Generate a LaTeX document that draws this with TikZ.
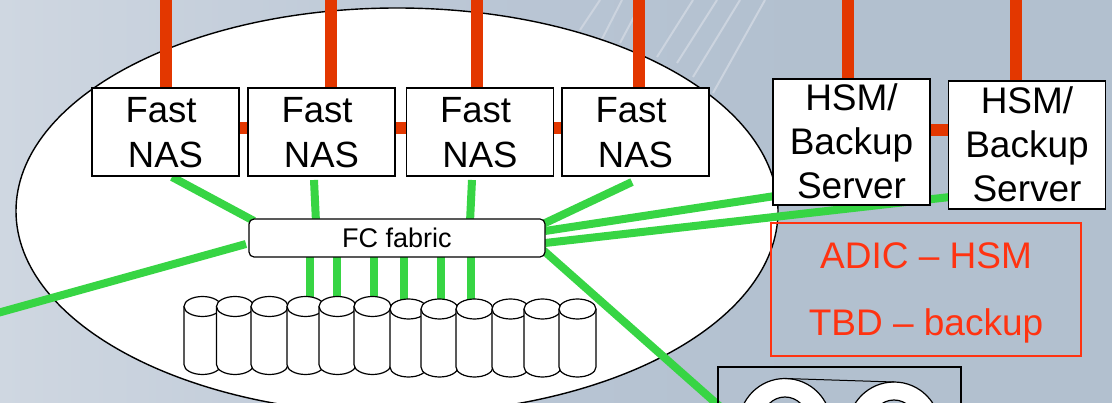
\documentclass[tikz,border=0pt]{standalone}
\usepackage{fontspec}
\setmainfont{Liberation Sans}
\usetikzlibrary{shapes.geometric}
\pgfdeclarelayer{back}
\pgfdeclarelayer{links}
\pgfsetlayers{back,links,main}
\definecolor{bgL}{HTML}{CFD7E1}
\definecolor{bgM}{HTML}{BAC6D5}
\definecolor{bgR}{HTML}{B2C0CF}
\definecolor{stripe}{HTML}{CCD4DF}
\definecolor{redlink}{HTML}{E33700}
\definecolor{greenlink}{HTML}{37D544}
\definecolor{notered}{HTML}{FF3311}
\tikzset{
  x=1pt,y=-1pt,
  every node/.style={inner sep=0pt,outer sep=0pt},
  nasbox/.style={draw=black,line width=1.4pt,fill=white,font=\fontsize{36.5}{45}\selectfont,align=center,minimum width=147,minimum height=88,text depth=0pt},
  hsmbox/.style={draw=black,line width=1.4pt,fill=white,font=\fontsize{37}{44}\selectfont,align=center,minimum width=157,minimum height=126,text depth=2pt},
  disk/.pic={
    \draw[line width=1.2pt,fill=white,line join=round] (-18.5,-29) -- (-18.5,29) arc (180:0:18.5 and 10) -- (18.5,-29);
    \draw[line width=1.2pt,fill=white] (0,-29) ellipse [x radius=18.5,y radius=10];
  },
  reel/.style={circle,draw=black,line width=1.2pt,fill=white,minimum size=92},
  hub/.style={circle,draw=black,line width=1.2pt,fill=bgR,minimum size=44},
  rlink/.style={draw=redlink,line width=12pt},
  glink/.style={draw=greenlink,line width=8pt},
  streak/.style={draw=stripe,line width=2pt},
}
\begin{document}
\begin{tikzpicture}
\useasboundingbox (0,0) rectangle (1112,403);
\begin{pgfonlayer}{back}
\fill[bgR] (0,0) rectangle (1112,403);
\shade[left color=bgL,right color=bgM] (0,0) rectangle (480,403);
\shade[left color=bgM,right color=bgR] (480,0) rectangle (800,403);
\draw[streak] (580,30) -- (600,0);
\draw[streak] (600,43) -- (622,0);
\draw[streak] (620,43) -- (643,0);
\draw[streak] (657,57) -- (693,0);
\draw[streak] (677,63) -- (717,0);
\draw[streak] (693,77) -- (740,0);
\draw[streak] (713,93) -- (765,0);
\node[ellipse,draw=black,line width=1.4pt,fill=white,minimum width=762,minimum height=406] (cloud) at (397,211) {};
\end{pgfonlayer}
% nodes
\node[nasbox] (n1) at (165.5,132) {Fast\hspace*{9pt}\\NAS};
\node[nasbox] (n2) at (321.5,132) {Fast\hspace*{9pt}\\NAS};
\node[nasbox] (n3) at (480,132) {Fast\hspace*{9pt}\\NAS};
\node[nasbox] (n4) at (635.5,132) {Fast\hspace*{9pt}\\NAS};
\node[hsmbox] (h1) at (851.5,142) {HSM/\\Backup\\Server};
\node[hsmbox,minimum height=128] (h2) at (1027,145) {HSM/\\Backup\\Server};
\node[draw=black,line width=1.2pt,fill=white,rounded corners=5pt,minimum width=296,minimum height=38,font=\fontsize{27}{30}\selectfont] (fabric) at (397,238) {FC fabric};
\node[draw=notered,line width=1.2pt,text=notered,font=\fontsize{37}{67}\selectfont,align=center,minimum width=310,minimum height=133,text depth=0pt] (note) at (926,289.5) {ADIC – HSM\\TBD – backup};
% disks
\foreach \i/\dx/\dy in {1/202.5/335.5,2/235/335.5,3/269.5/335.5,4/305.5/335.5,5/337.5/335.5,6/372.5/335.5,7/408.5/338,8/439.5/338,9/474.5/338,10/510.5/338,11/542.5/338,12/577.5/338}{
  \pic (d\i) at (\dx,\dy) {disk};
}
% tape
\node[draw=black,line width=1.2pt,minimum width=243,minimum height=120] (tape) at (839.5,427) {};
\node[reel] (ra) at (785,424.5) {};
\node[reel] (rb) at (894,428) {};
\node[hub] (ha) at (785,419) {};
\node[hub] (hb) at (894,422) {};
\draw[line width=1pt] (ra.north) -- (rb.north);
% links
\coordinate (r1) at (166,-6); \coordinate (r2) at (330.5,-6); \coordinate (r3) at (477,-6); \coordinate (r4) at (639,-6);
\coordinate (r5) at (848,-6); \coordinate (r6) at (1016,-6);
\coordinate (b1) at (239,128); \coordinate (b2) at (395,128); \coordinate (b3) at (553,128); \coordinate (b4) at (930,130);
\coordinate (g1a) at (172,177); \coordinate (g1b) at (254,221);
\coordinate (g2a) at (314,180); \coordinate (g2b) at (316,222);
\coordinate (g3a) at (472,180); \coordinate (g3b) at (470,222);
\coordinate (g4a) at (632,182); \coordinate (g4b) at (543,224);
\coordinate (gla) at (-6,314);  \coordinate (glb) at (246,244);
\coordinate (gh1a) at (545,231); \coordinate (gh1b) at (775,196);
\coordinate (gh2a) at (545,243); \coordinate (gh2b) at (950,197);
\coordinate (gta) at (543,250); \coordinate (gtb) at (735,420);
\coordinate (v1) at (309.5,300); \coordinate (v2) at (337,300); \coordinate (v3) at (374,300);
\coordinate (v4) at (404,303); \coordinate (v5) at (441,303); \coordinate (v6) at (471,303);
\begin{pgfonlayer}{links}
\draw[rlink] (r1) -- (r1 |- n1.north);
\draw[rlink] (r2) -- (r2 |- n2.north);
\draw[rlink] (r3) -- (r3 |- n3.north);
\draw[rlink] (r4) -- (r4 |- n4.north);
\draw[rlink] (r5) -- (r5 |- h1.north);
\draw[rlink] (r6) -- (r6 |- h2.north);
\draw[rlink] (n1.east |- b1) -- (b1 -| n2.west);
\draw[rlink] (n2.east |- b2) -- (b2 -| n3.west);
\draw[rlink] (n3.east |- b3) -- (b3 -| n4.west);
\draw[rlink] (h1.east |- b4) -- (b4 -| h2.west);
\draw[glink] (g1a) -- (g1b);
\draw[glink] (g2a) -- (g2b);
\draw[glink] (g3a) -- (g3b);
\draw[glink] (g4a) -- (g4b);
\draw[glink] (gla) -- (glb);
\draw[glink] (gh1a) -- (gh1b);
\draw[glink] (gh2a) -- (gh2b);
\draw[glink] (gta) -- (gtb);
\foreach \v in {v1,v2,v3,v4,v5,v6}{
  \draw[glink] (fabric.south -| \v) -- (\v);
}
\end{pgfonlayer}
\end{tikzpicture}
\end{document}
